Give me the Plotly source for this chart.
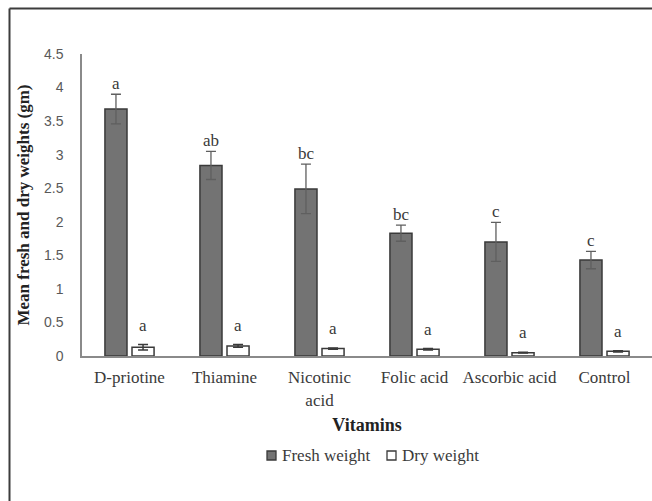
import plotly.graph_objects as go

# Mean fresh and dry weights by vitamin treatment
categories = ["D-priotine", "Thiamine", "Nicotinic<br>acid", "Folic acid", "Ascorbic acid", "Control"]
fresh = [3.68, 2.84, 2.49, 1.83, 1.70, 1.43]
fresh_err = [0.22, 0.21, 0.37, 0.12, 0.29, 0.13]
dry = [0.13, 0.15, 0.11, 0.10, 0.05, 0.07]
dry_err = [0.04, 0.02, 0.01, 0.01, 0.005, 0.01]
fresh_letters = ["a", "ab", "bc", "bc", "c", "c"]
dry_letters = ["a", "a", "a", "a", "a", "a"]
y_ticks = [0, 0.5, 1, 1.5, 2, 2.5, 3, 3.5, 4, 4.5]
y_tick_text = ["0", "0.5", "1", "1.5", "2", "2.5", "3", "3.5", "4", "4.5"]
series_names = ["Fresh weight", "Dry weight"]

SERIF = "Liberation Serif"
SANS = "Liberation Sans"
EDGE = "#3a3a3a"
FRESH_FILL = "#737373"
DRY_FILL = "#ffffff"

# plot area in pixels (used to place the hand-built legend in paper units)
L, T, B, W, H = 82, 54, 145, 652, 501
PW, PH = W - L, H - T - B


def px_to_paper(px, py):
    return (px - L) / PW, (H - B - py) / PH


fig = go.Figure()
fig.add_trace(go.Bar(
    name=series_names[0], x=categories, y=fresh,
    marker=dict(color=FRESH_FILL, line=dict(color=EDGE, width=1.5)),
    error_y=dict(type="data", array=fresh_err, color="#5f5f5f", thickness=1.3, width=5),
))
fig.add_trace(go.Bar(
    name=series_names[1], x=categories, y=dry,
    marker=dict(color=DRY_FILL, line=dict(color=EDGE, width=1.5)),
    error_y=dict(type="data", array=dry_err, color="#3a3a3a", thickness=1.5, width=5),
))

# significance letters above each bar
annotations = []
for cat, v, e, lab in zip(categories, fresh, fresh_err, fresh_letters):
    annotations.append(dict(x=cat, y=v + e, xref="x", yref="y", text=lab, showarrow=False,
                            xshift=-13.5, yanchor="bottom", yshift=-1,
                            font=dict(family=SERIF, size=17, color="#3a3a3a")))
for cat, v, e, lab in zip(categories, dry, dry_err, dry_letters):
    annotations.append(dict(x=cat, y=v + e, xref="x", yref="y", text=lab, showarrow=False,
                            xshift=13.5, yanchor="bottom", yshift=8,
                            font=dict(family=SERIF, size=17, color="#3a3a3a")))

# legend: square swatch followed by its label
shapes = []
for (sx, tx), name, fill in zip([(267, 280), (387, 400)], series_names, [FRESH_FILL, DRY_FILL]):
    x0, y0 = px_to_paper(sx, 460)
    x1, y1 = px_to_paper(sx + 9, 451)
    shapes.append(dict(type="rect", xref="paper", yref="paper", x0=x0, x1=x1, y0=y0, y1=y1,
                       fillcolor=fill, line=dict(color=EDGE, width=1.3)))
    ax, ay = px_to_paper(tx, 455)
    annotations.append(dict(x=ax, y=ay, xref="paper", yref="paper", text=name, showarrow=False,
                            xanchor="left", yanchor="middle",
                            font=dict(family=SERIF, size=17, color="#3a3a3a")))

# outer frame
fx, fy = px_to_paper(9.5, 8.5)
shapes.append(dict(type="line", xref="paper", yref="paper", x0=fx, x1=fx, y0=-0.6, y1=fy,
                   line=dict(color="#3c3c3c", width=2)))
shapes.append(dict(type="line", xref="paper", yref="paper", x0=fx, x1=1.1, y0=fy, y1=fy,
                   line=dict(color="#3c3c3c", width=2)))

fig.update_layout(
    width=W, height=H,
    margin=dict(l=L, r=0, t=T, b=B),
    paper_bgcolor="white", plot_bgcolor="white",
    barmode="group", bargap=0.43, bargroupgap=0.185,
    showlegend=False,
    annotations=annotations,
    shapes=shapes,
)
fig.update_yaxes(
    range=[0, 4.5], tickvals=y_ticks, ticktext=y_tick_text,
    showgrid=False, zeroline=False, showline=True, linecolor="#8a8a8a", linewidth=1.5,
    ticks="", ticklabelstandoff=14,
    tickfont=dict(family=SANS, size=14, color="#595959"),
    title=dict(text="<b>Mean fresh and dry weights (gm)</b>", standoff=10,
               font=dict(family=SERIF, size=17, color="#222222")),
)
fig.update_xaxes(
    showgrid=False, showline=True, linecolor="#8a8a8a", linewidth=2,
    ticks="", ticklabelstandoff=5,
    tickfont=dict(family=SERIF, size=17, color="#3a3a3a"),
    title=dict(text="<b>Vitamins</b>", standoff=10,
               font=dict(family=SERIF, size=18, color="#222222")),
)

fig.write_html("out.html")
